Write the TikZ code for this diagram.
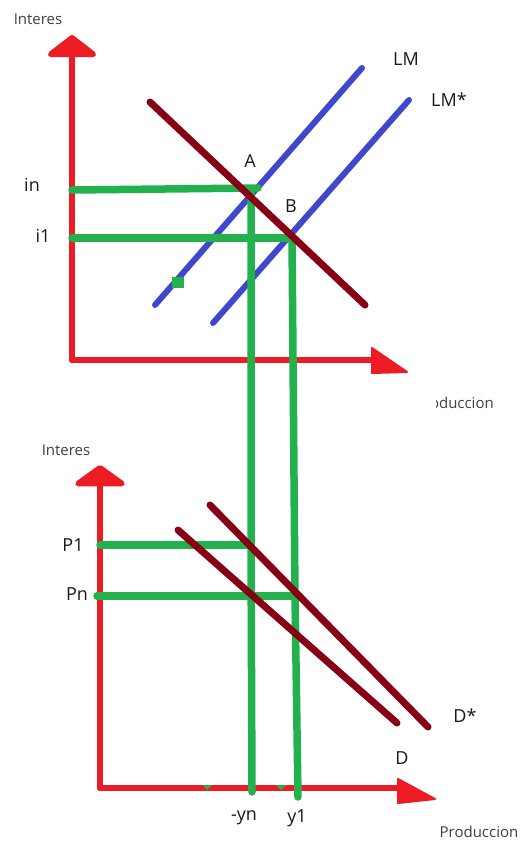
\documentclass[tikz,border=0pt]{standalone}
\usepackage{fontspec}
\setmainfont{Open Sans}
\usetikzlibrary{arrows.meta}

\begin{document}
\begin{tikzpicture}[x=1pt, y=-1pt, line cap=round, line join=round, font=\fontsize{18}{21}\selectfont]
	\definecolor{rojo}{RGB}{237,28,36}
	\definecolor{verde}{RGB}{34,177,76}
	\definecolor{azul}{RGB}{63,72,204}
	\definecolor{granate}{RGB}{136,0,21}
	\tikzset{
		eje/.style={rojo, line width=6pt},
		punta/.style={rojo, fill=rojo, line width=2pt},
		curvaLM/.style={azul, line width=6pt},
		curvaD/.style={granate, line width=7pt},
		guia/.style={verde, line width=7.5pt},
		titulo/.style={text=black!75, font=\fontsize{15}{18}\selectfont},
		etiqueta/.style={text=black!90}
	}
	\useasboundingbox (0,0) rectangle (522,841);
	
	% ejes (arriba)
	\coordinate (O1) at (72,360);
	\coordinate (Y1) at (72,35);
	\coordinate (X1) at (372,360);
	\draw[eje, -{Triangle[width=58pt, length=23pt, round]}] (O1) -- (Y1);
	\draw[eje] (O1) -- (X1);
	\filldraw[punta] (372,348) -- (372,373) -- (407,372) -- cycle;
	\node[titulo] (tIntA) at (38,19) {Interes};
	\begin{scope}
		\clip (436,385) rectangle (500,420);
		\node[titulo, anchor=east, inner sep=0pt] (tProdA) at (494,403) {Produccion};
	\end{scope}
	
	% ejes (abajo)
	\coordinate (O2) at (100,788);
	\coordinate (Y2) at (100,465);
	\coordinate (X2) at (398,788);
	\draw[eje, -{Triangle[width=60pt, length=22pt, round]}] (O2) -- (Y2);
	\draw[eje] (O2) -- (X2);
	\filldraw[punta] (398,779) -- (398,803) -- (435,799) -- cycle;
	\node[titulo] (tIntB) at (66,450) {Interes};
	\node[titulo] (tProdB) at (479,832) {Produccion};
	
	% LM y LM*
	\coordinate (LMa) at (155,305);
	\coordinate (LMb) at (362,68);
	\coordinate (LMsa) at (213,323);
	\coordinate (LMsb) at (409,100);
	\draw[curvaLM] (LMa) -- (LMb);
	\draw[curvaLM] (LMsa) -- (LMsb);
	\fill[verde] (172,277) rectangle (184,288);
	
	% lineas de guia
	\coordinate (A) at (251,190);
	\coordinate (B) at (292,238);
	\coordinate (C) at (251,545);
	\coordinate (E) at (295,596);
	\draw[guia] (O1 |- A) -- (258,188);
	\draw[guia] (O1 |- B) -- (B);
	\draw[guia] (A) -- (C) -- (252,792);
	\draw[guia] (B) -- (E) -- (298,797);
	\draw[guia] (O2 |- C) -- (C);
	\draw[guia] (97,596) -- (E);
	\fill[verde] (203,785) -- (212,785) -- (207,790) -- cycle;
	\fill[verde] (276,785) -- (286,785) -- (281,790) -- cycle;
	
	% IS, D y D*
	\draw[curvaD] (150,102) -- (365,305);
	\draw[curvaD] (178,530) -- (397,723);
	\draw[curvaD] (210,505) -- (428,727);
	
	% etiquetas
	\node[etiqueta] (tLM) at (406,59) {LM};
	\node[etiqueta] (tLMs) at (449,100) {LM*};
	\node[etiqueta] (tA) at (250,161) {A};
	\node[etiqueta] (tB) at (291,206) {B};
	\node[etiqueta] (tin) at (32,185) {in};
	\node[etiqueta] (ti1) at (43,236) {i1};
	\node[etiqueta] (tP1) at (73,545) {P1};
	\node[etiqueta] (tPn) at (77,594) {Pn};
	\node[etiqueta] (tDs) at (465,716) {D*};
	\node[etiqueta] (tD) at (402,758) {D};
	\node[etiqueta] (tyn) at (244,818) {-yn};
	\node[etiqueta] (ty1) at (297,818) {y1};
\end{tikzpicture}
\end{document}
